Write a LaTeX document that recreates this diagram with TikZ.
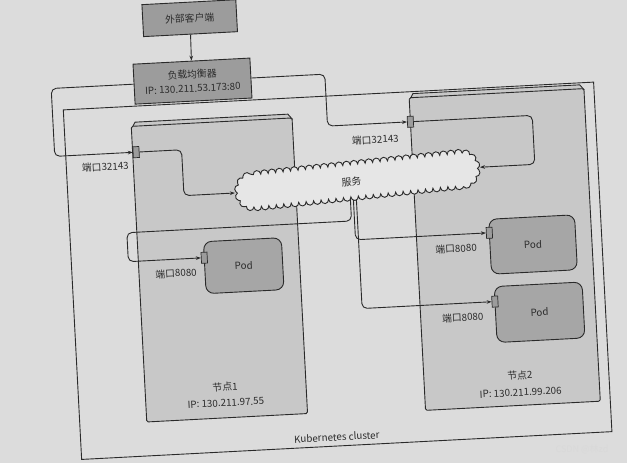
\documentclass[tikz,border=0pt]{standalone}
\usepackage{fontspec}
\setmainfont{Noto Sans CJK SC}
\usetikzlibrary{arrows.meta,decorations.pathmorphing}
\definecolor{paper}{HTML}{DCDCDC}
\definecolor{nodefill}{HTML}{C8C8C8}
\definecolor{podfill}{HTML}{A6A6A6}
\definecolor{boxfill}{HTML}{9C9C9C}
\definecolor{cloudfill}{HTML}{E6E6E6}
\definecolor{ink}{HTML}{2A2A2A}
\definecolor{txt}{HTML}{2C2C2C}
\begin{document}
\begin{tikzpicture}[x=1pt,y=-1pt,
  font=\fontsize{9.8}{11.5}\selectfont,
  every node/.style={text=txt},
  conn/.style={draw=ink, line width=0.9pt, rounded corners=5pt},
  arr/.style={conn, -{Stealth[length=5pt,width=3.6pt]}},
  graybox/.style={draw=ink, line width=0.9pt, fill=boxfill, inner sep=0pt, align=center},
  nodebox/.style={draw=ink, line width=0.9pt, fill=nodefill, inner sep=0pt, rounded corners=1.5pt},
  podbox/.style={draw=ink, line width=0.9pt, fill=podfill, inner sep=0pt, rounded corners=8pt},
  portbox/.style={draw=ink, line width=0.7pt, fill=boxfill, inner sep=0pt, minimum width=6pt, minimum height=11pt},
  lbl/.style={inner sep=1pt}]
\fill[paper] (0,0) rectangle (627,463);
\useasboundingbox (0,0) rectangle (627,463);
\begin{scope}[rotate around={3:(313,231)}, transform shape]
  % cluster
  \node[draw=ink, line width=0.9pt, inner sep=0pt, minimum width=531pt, minimum height=350pt] (cluster) at (335.5,272) {};
  \node[lbl] (clusterlbl) at (326,438) {Kubernetes cluster};
  % node 1
  \filldraw[draw=ink, line width=0.9pt, fill=nodefill] (138,118) -- (141,113) -- (294,113) -- (298,118) -- cycle;
  \node[nodebox, minimum width=161pt, minimum height=296pt] (node1) at (217.5,265) {};
  \node[lbl] (n1a) at (217,382) {节点1};
  \node[lbl] (n1b) at (217,398) {IP: 130.211.97.55};
  % node 2
  \filldraw[draw=ink, line width=0.9pt, fill=nodefill] (417,104) -- (420,99) -- (587,99) -- (591,104) -- cycle;
  \node[nodebox, minimum width=175pt, minimum height=313pt] (node2) at (503.5,259.5) {};
  \node[lbl] (n2a) at (512,386) {节点2};
  \node[lbl] (n2b) at (512,403) {IP: 130.211.99.206};
  % external client and load balancer
  \node[graybox, minimum width=94pt, minimum height=32pt] (client) at (201,12) {外部客户端};
  \node[graybox, minimum width=117pt, minimum height=40pt] (lb) at (200.5,75) {负载均衡器\\[2.5pt]IP: 130.211.53.173:80};
  % pods
  \node[podbox, minimum width=78pt, minimum height=52pt] (pod1) at (242,262) {Pod};
  \node[podbox, minimum width=86pt, minimum height=55pt] (pod2) at (532,256) {Pod};
  \node[podbox, minimum width=88pt, minimum height=56pt] (pod3) at (535,324) {Pod};
  % ports
  \node[portbox] (p1) at (140.5,143) {};
  \node[portbox] (p2) at (416,127) {};
  \node[portbox] (pp1) at (203,252) {};
  \node[portbox] (pp2) at (489,242) {};
  \node[portbox] (pp3) at (491,311) {};
  \node[lbl] (p1l) at (109,156) {端口32143};
  \node[lbl] (p2l) at (380,143) {端口32143};
  \node[lbl] (pp1l) at (174,266) {端口8080};
  \node[lbl] (pp2l) at (455,256) {端口8080};
  \node[lbl] (pp3l) at (458,325) {端口8080};
  % connectors
  \draw[arr] (client.south) -- (lb.north);
  \draw[arr] (lb.west) -| (59,143) -- (p1.west);
  \draw[arr] (lb.east) -| (333,127) -- (p2.west);
  \coordinate (s1) at (352,196);
  \coordinate (s2) at (355,196);
  \coordinate (s3) at (358,196);
  \draw[arr] (s1) -- (352,223) -| (127,252) -- (pp1.west);
  \draw[arr] (s2) |- (pp2.west);
  \draw[arr] (s3) |- (pp3.west);
  % service cloud
  \node[draw=none, inner sep=0pt, minimum width=246pt, minimum height=36pt, rotate=3] (svc) at (360,182.5) {};
  \begin{scope}[rotate around={3:(360,182.5)}]
    \draw[draw=ink, line width=0.9pt, fill=cloudfill, decorate,
          decoration={bumps, segment length=15pt, amplitude=4pt}]
      (257,166.5) -- (463,166.5) arc[start angle=-90, end angle=90, radius=16]
      -- (257,198.5) arc[start angle=90, end angle=270, radius=16] -- cycle;
  \end{scope}
  \node[lbl, rotate=3] (svcl) at (354,184) {服务};
  \draw[arr] (p1.east) -- (186,143) |- (svc.west);
  \draw[arr] (p2.east) -- (538,127) |- (svc.east);
\end{scope}
\node[text=white!70!gray, font=\fontsize{9}{10}\selectfont] (wm) at (582,449) {CSDN @林zd};
\end{tikzpicture}
\end{document}
